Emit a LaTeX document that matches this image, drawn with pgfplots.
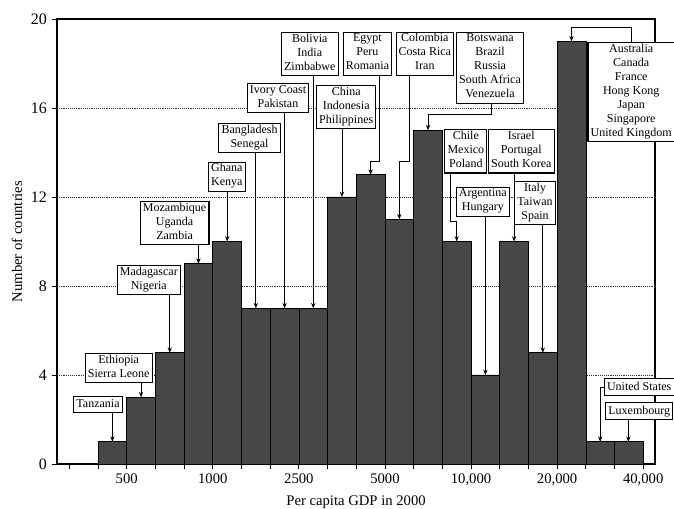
\documentclass[border=0pt]{standalone}
\usepackage{fontspec}
\setmainfont{Liberation Serif}
\usepackage{pgfplots}
\pgfplotsset{compat=1.18}
\usetikzlibrary{arrows.meta}

\begin{document}
\begin{tikzpicture}[
  box/.style={draw=black, line width=0.8pt, fill=white, align=center,
    font=\fontsize{9}{10.5}\selectfont, inner xsep=2pt, inner ysep=1pt,
    execute at begin node=\strut, execute at end node=\strut},
  arr/.style={line width=0.55pt, -{Stealth[length=4pt,width=3.2pt]}}
]
\begin{axis}[
  at={(0,0)}, anchor=south west,
  scale only axis, width=448.5pt, height=333.75pt,
  xmin=-1.43, xmax=19.41, ymin=0, ymax=20,
  xtick={1,4,7,10,13,16,19},
  xticklabels={500,1000,2500,5000,{10,000},{20,000},{40,000}},
  minor xtick={-1,0,2,3,5,6,8,9,11,12,14,15,17,18},
  ytick={0,4,8,12,16,20},
  tick pos=left, tick align=outside,
  major tick length=4pt, minor tick length=4pt,
  every tick/.style={black, line width=0.7pt},
  ymajorgrids, grid style={densely dotted, black!80, line width=0.6pt},
  axis line style={line width=0.9pt},
  xticklabel style={font=\fontsize{11}{13}\selectfont},
  yticklabel style={font=\fontsize{12}{14}\selectfont},
  /pgf/number format/assume math mode=true,
  xlabel={Per capita GDP in 2000}, ylabel={Number of countries},
  label style={font=\fontsize{11}{13}\selectfont},
  xlabel style={at={(axis description cs:0.5,-0.085)}, anchor=center},
  ylabel style={at={(axis description cs:-0.067,0.5)}, anchor=center},
]
\addplot[ybar interval, fill=black!72, draw=black, line width=0.5pt] coordinates {
  (0,1) (1,3) (2,5) (3,9) (4,10) (5,7) (6,7) (7,7) (8,12) (9,13)
  (10,11) (11,15) (12,10) (13,4) (14,10) (15,5) (16,19) (17,1) (18,1) (19,0)
};
% bar tops
\coordinate (b0) at (axis cs:0.5,1);
\coordinate (b1) at (axis cs:1.5,3);
\coordinate (b2) at (axis cs:2.5,5);
\coordinate (b3) at (axis cs:3.5,9);
\coordinate (b4) at (axis cs:4.5,10);
\coordinate (b5) at (axis cs:5.5,7);
\coordinate (b6) at (axis cs:6.5,7);
\coordinate (b7) at (axis cs:7.5,7);
\coordinate (b8) at (axis cs:8.5,12);
\coordinate (b9) at (axis cs:9.5,13);
\coordinate (b10) at (axis cs:10.5,11);
\coordinate (b11) at (axis cs:11.5,15);
\coordinate (b12) at (axis cs:12.5,10);
\coordinate (b13) at (axis cs:13.5,4);
\coordinate (b14) at (axis cs:14.5,10);
\coordinate (b15) at (axis cs:15.5,5);
\coordinate (b16) at (axis cs:16.5,19);
\coordinate (b17) at (axis cs:17.5,1);
\coordinate (b18) at (axis cs:18.5,1);
% box centres
\coordinate (ctz) at (axis cs:0.0,2.67);
\coordinate (cet) at (axis cs:0.72,4.30);
\coordinate (cmd) at (axis cs:1.77,8.27);
\coordinate (cmz) at (axis cs:2.67,10.83);
\coordinate (cgh) at (axis cs:4.49,12.91);
\coordinate (cbd) at (axis cs:5.28,14.64);
\coordinate (cic) at (axis cs:6.27,16.44);
\coordinate (cbo) at (axis cs:7.38,18.42);
\coordinate (cch) at (axis cs:8.65,16.04);
\coordinate (ceg) at (axis cs:9.39,18.43);
\coordinate (cco) at (axis cs:11.39,18.43);
\coordinate (cbw) at (axis cs:13.66,17.79);
\coordinate (ccl) at (axis cs:12.82,14.05);
\coordinate (car) at (axis cs:13.41,11.77);
\coordinate (cis) at (axis cs:14.75,14.05);
\coordinate (cit) at (axis cs:15.23,11.72);
\coordinate (cau) at (axis cs:18.58,16.71);
\coordinate (cus) at (axis cs:18.86,3.45);
\coordinate (clu) at (axis cs:18.86,2.37);
% elbows
\coordinate (egA) at (axis cs:9.80,13.59);
\coordinate (coA) at (axis cs:10.84,13.59);
\coordinate (bwA) at (axis cs:13.69,15.72);
\coordinate (clA) at (axis cs:12.29,10.89);
\coordinate (auA) at (axis cs:18.6,19.61);
\coordinate (luA) at (axis cs:18.48,1);
\end{axis}

\node[box] (Ntz) at (ctz) {Tanzania};
\node[box] (Net) at (cet) {Ethiopia\\Sierra Leone};
\node[box] (Nmd) at (cmd) {Madagascar\\Nigeria};
\node[box] (Nmz) at (cmz) {Mozambique\\Uganda\\Zambia};
\node[box] (Ngh) at (cgh) {Ghana\\Kenya};
\node[box] (Nbd) at (cbd) {Bangladesh\\Senegal};
\node[box] (Nic) at (cic) {Ivory Coast\\Pakistan};
\node[box] (Nbo) at (cbo) {Bolivia\\India\\Zimbabwe};
\node[box] (Nch) at (cch) {China\\Indonesia\\Philippines};
\node[box] (Neg) at (ceg) {Egypt\\Peru\\Romania};
\node[box] (Nco) at (cco) {Colombia\\Costa Rica\\Iran};
\node[box] (Nbw) at (cbw) {Botswana\\Brazil\\Russia\\South Africa\\Venezuela};
\node[box] (Ncl) at (ccl) {Chile\\Mexico\\Poland};
\node[box] (Nar) at (car) {Argentina\\Hungary};
\node[box] (Nis) at (cis) {Israel\\Portugal\\South Korea};
\node[box] (Nit) at (cit) {Italy\\Taiwan\\Spain};
\node[box] (Nau) at (cau) {Australia\\Canada\\France\\Hong Kong\\Japan\\Singapore\\United Kingdom};
\node[box] (Nus) at (cus) {United States};
\node[box] (Nlu) at (clu) {Luxembourg};

\draw[arr] (Ntz.south -| b0) -- (b0);
\draw[arr] (Net.south -| b1) -- (b1);
\draw[arr] (Nmd.south -| b2) -- (b2);
\draw[arr] (Nmz.south -| b3) -- (b3);
\draw[arr] (Ngh.south -| b4) -- (b4);
\draw[arr] (Nbd.south -| b5) -- (b5);
\draw[arr] (Nic.south -| b6) -- (b6);
\draw[arr] (Nbo.south -| b7) -- (b7);
\draw[arr] (Nch.south -| b8) -- (b8);
\draw[arr] (Neg.south -| egA) -- (egA) -- (egA -| b9) -- (b9);
\draw[arr] (Nco.south -| coA) -- (coA) -- (coA -| b10) -- (b10);
\draw[arr] (Nbw.south -| bwA) -- (bwA) -- (bwA -| b11) -- (b11);
\draw[arr] (Ncl.south -| clA) -- (clA) -- (clA -| b12) -- (b12);
\draw[arr] (Nar.south -| b13) -- (b13);
\draw[arr] (Nis.south -| b14) -- (b14);
\draw[arr] (Nit.south -| b15) -- (b15);
\draw[arr] (Nau.north -| auA) -- (auA) -- (auA -| b16) -- (b16);
\draw[arr] (Nus.west) -- (Nus.west -| b17) -- (b17);
\draw[arr] (Nlu.south -| luA) -- (luA);

\pgfresetboundingbox
\path[use as bounding box] (-42.75pt,-33.75pt) rectangle (462.75pt,348pt);
\end{tikzpicture}
\end{document}
